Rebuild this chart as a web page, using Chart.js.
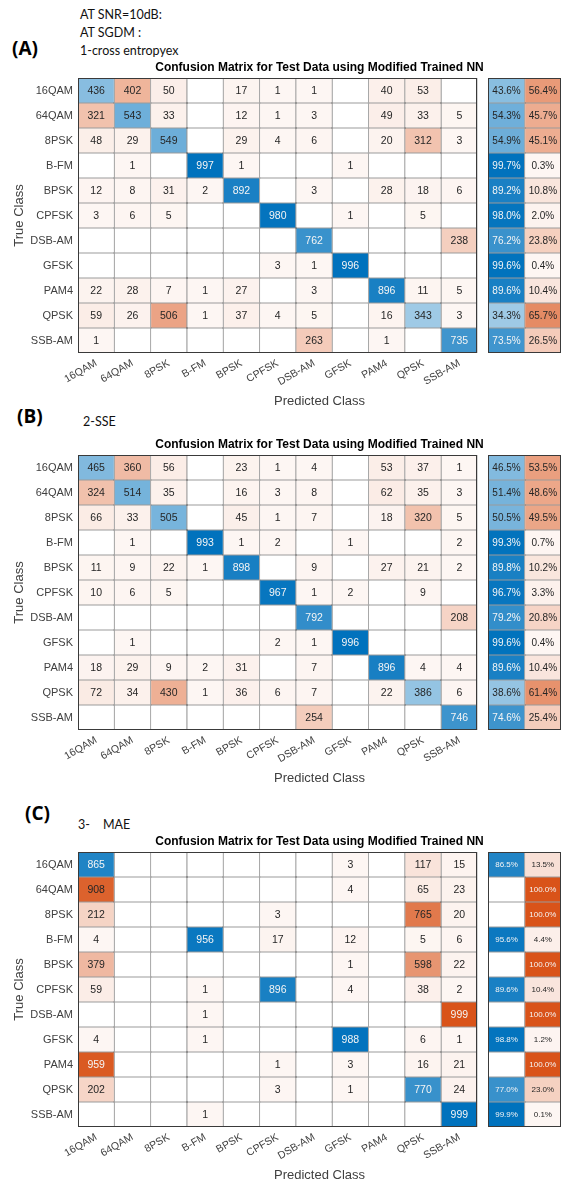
<!DOCTYPE html>
<html><head><meta charset="utf-8">
<script src="https://cdn.jsdelivr.net/npm/chart.js@4.4.1/dist/chart.umd.min.js"></script>
<style>
html,body{margin:0;padding:0;background:#fff;}
body{width:562px;height:1187px;position:relative;overflow:hidden;}
.note{position:absolute;font-family:Lato,"Open Sans",sans-serif;font-size:12.5px;color:#111;white-space:nowrap;line-height:1;}
.tag{position:absolute;font-family:"Open Sans",Lato,sans-serif;font-weight:700;font-size:19px;color:#000;line-height:1;}
canvas{position:absolute;left:0;}
</style></head><body>
<div class="note" style="left:80px;top:9px">AT SNR=10dB:</div>
<div class="note" style="left:80px;top:27px">AT SGDM :</div>
<div class="note" style="left:80px;top:45px">1-cross entropyex</div>
<div class="tag" style="left:12px;top:39px">(A)</div>
<div class="tag" style="left:17px;top:407px">(B)</div>
<div class="note" style="left:83px;top:416px">2-SSE</div>
<div class="tag" style="left:25px;top:804px">(C)</div>
<div class="note" style="left:78px;top:819px">3-</div>
<div class="note" style="left:103px;top:819px">MAE</div>
<canvas id="cA" width="562" height="351" style="top:60px"></canvas>
<canvas id="cB" width="562" height="351" style="top:437px"></canvas>
<canvas id="cC" width="562" height="351" style="top:834px"></canvas>
<script>
const trueClasses = ['16QAM','64QAM','8PSK','B-FM','BPSK','CPFSK','DSB-AM','GFSK','PAM4','QPSK','SSB-AM'];
const predictedClasses = ['16QAM','64QAM','8PSK','B-FM','BPSK','CPFSK','DSB-AM','GFSK','PAM4','QPSK','SSB-AM'];
const chartTitle = 'Confusion Matrix for Test Data using Modified Trained NN';

// (A) cross entropy
const matrixA = [
  [436,402,50,0,17,1,1,0,40,53,0],
  [321,543,33,0,12,1,3,0,49,33,5],
  [48,29,549,0,29,4,6,0,20,312,3],
  [0,1,0,997,1,0,0,1,0,0,0],
  [12,8,31,2,892,0,3,0,28,18,6],
  [3,6,5,0,0,980,0,1,0,5,0],
  [0,0,0,0,0,0,762,0,0,0,238],
  [0,0,0,0,0,3,1,996,0,0,0],
  [22,28,7,1,27,0,3,0,896,11,5],
  [59,26,506,1,37,4,5,0,16,343,3],
  [1,0,0,0,0,0,263,0,1,0,735]
];
const correctA = [43.6,54.3,54.9,99.7,89.2,98.0,76.2,99.6,89.6,34.3,73.5];
const wrongA   = [56.4,45.7,45.1,0.3,10.8,2.0,23.8,0.4,10.4,65.7,26.5];

// (B) SSE
const matrixB = [
  [465,360,56,0,23,1,4,0,53,37,1],
  [324,514,35,0,16,3,8,0,62,35,3],
  [66,33,505,0,45,1,7,0,18,320,5],
  [0,1,0,993,1,2,0,1,0,0,2],
  [11,9,22,1,898,0,9,0,27,21,2],
  [10,6,5,0,0,967,1,2,0,9,0],
  [0,0,0,0,0,0,792,0,0,0,208],
  [0,1,0,0,0,2,1,996,0,0,0],
  [18,29,9,2,31,0,7,0,896,4,4],
  [72,34,430,1,36,6,7,0,22,386,6],
  [0,0,0,0,0,0,254,0,0,0,746]
];
const correctB = [46.5,51.4,50.5,99.3,89.8,96.7,79.2,99.6,89.6,38.6,74.6];
const wrongB   = [53.5,48.6,49.5,0.7,10.2,3.3,20.8,0.4,10.4,61.4,25.4];

// (C) MAE
const matrixC = [
  [865,0,0,0,0,0,0,3,0,117,15],
  [908,0,0,0,0,0,0,4,0,65,23],
  [212,0,0,0,0,3,0,0,0,765,20],
  [4,0,0,956,0,17,0,12,0,5,6],
  [379,0,0,0,0,0,0,1,0,598,22],
  [59,0,0,1,0,896,0,4,0,38,2],
  [0,0,0,1,0,0,0,0,0,0,999],
  [4,0,0,1,0,0,0,988,0,6,1],
  [959,0,0,0,0,1,0,3,0,16,21],
  [202,0,0,0,0,3,0,1,0,770,24],
  [0,0,0,1,0,0,0,0,0,0,999]
];
const correctC = [86.5,0,0,95.6,0,89.6,0,98.8,0,77.0,99.9];
const wrongC   = [13.5,100.0,100.0,4.4,100.0,10.4,100.0,1.2,100.0,23.0,0.1];

const BLUE = [0,114,189], ORANGE = [217,83,25];
const FONT = '"Liberation Sans", Arial, Helvetica, sans-serif';
Chart.defaults.font.family = FONT;

function mix(rgb, t) {
  return 'rgb(' + rgb.map(c => Math.round(255 - (255 - c) * t)).join(',') + ')';
}
function tint(v, max) { return 0.05 + 0.95 * v / max; }

const cellTextPlugin = {
  id: 'cellText',
  afterDatasetsDraw(chart) {
    const ctx = chart.ctx;
    chart.data.datasets.forEach((ds, di) => {
      const meta = chart.getDatasetMeta(di);
      meta.data.forEach((el, i) => {
        const txt = ds.cellText[i];
        if (!txt) return;
        const p = el.getProps(['x', 'y', 'base'], true);
        ctx.save();
        ctx.font = ds.cellFont;
        ctx.fillStyle = ds.cellTextColor[i];
        ctx.textAlign = 'center';
        ctx.textBaseline = 'middle';
        ctx.fillText(txt, (p.x + p.base) / 2, p.y + 0.5);
        ctx.restore();
      });
    });
  }
};
const outlinePlugin = {
  id: 'outline',
  afterDatasetsDraw(chart) {
    const ctx = chart.ctx, xs = chart.scales.x, a = chart.chartArea;
    ctx.save();
    ctx.strokeStyle = '#3a3a3a';
    ctx.lineWidth = 1;
    [[0, 11], [11.3, 13.3]].forEach(([s, e]) => {
      const x0 = Math.round(xs.getPixelForValue(s)) + 0.5;
      const x1 = Math.round(xs.getPixelForValue(e)) - 0.5;
      ctx.strokeRect(x0, Math.round(a.top) + 0.5, x1 - x0, Math.round(a.bottom) - Math.round(a.top) - 1);
    });
    ctx.restore();
  }
};

function makeChart(id, matrix, correct, wrong, sumFont) {
  const max = Math.max(...matrix.flat());
  const datasets = predictedClasses.map((pc, c) => ({
    label: pc,
    data: trueClasses.map(() => [c, c + 1]),
    backgroundColor: matrix.map((row, r) => row[c] ? mix(r === c ? BLUE : ORANGE, tint(row[c], max)) : '#ffffff'),
    cellText: matrix.map(row => row[c] ? String(row[c]) : ''),
    cellTextColor: matrix.map((row, r) => {
      const t = tint(row[c], max);
      return (r === c ? t > 0.66 : t > 0.94) ? '#f4f4f4' : '#262626';
    }),
    cellFont: '10.5px ' + FONT
  }));
  [[correct, BLUE, 11.3, 0.66], [wrong, ORANGE, 12.3, 0.94]].forEach(([vals, col, x0, thr]) => {
    datasets.push({
      label: 'summary',
      data: trueClasses.map(() => [x0, x0 + 1]),
      backgroundColor: vals.map(v => v > 0 ? mix(col, tint(v, 100)) : '#ffffff'),
      cellText: vals.map(v => v > 0 ? v.toFixed(1) + '%' : ''),
      cellTextColor: vals.map(v => tint(v, 100) > thr ? '#f4f4f4' : '#262626'),
      cellFont: sumFont + 'px ' + FONT
    });
  });
  datasets.forEach(d => {
    d.borderColor = '#3a3a3a';
    d.borderWidth = 0.55;
    d.borderSkipped = false;
    d.inflateAmount = 0;
    d.grouped = false;
    d.barPercentage = 1;
    d.categoryPercentage = 1;
  });
  return new Chart(document.getElementById(id), {
    type: 'bar',
    data: { labels: trueClasses, datasets },
    plugins: [cellTextPlugin, outlinePlugin],
    options: {
      responsive: false,
      animation: false,
      indexAxis: 'y',
      layout: { padding: { left: 0, right: 1, top: 0, bottom: 0 } },
      plugins: {
        legend: { display: false },
        tooltip: { enabled: false },
        title: {
          display: true, text: chartTitle, fullSize: false, color: '#000',
          font: { family: FONT, size: 12, weight: 'bold', lineHeight: 1.25 },
          padding: { top: 0, bottom: 3 }
        }
      },
      scales: {
        x: {
          type: 'linear', min: 0, max: 13.3,
          grid: { display: false, drawTicks: false }, border: { display: false },
          afterBuildTicks: s => { s.ticks = predictedClasses.map((_, i) => ({ value: i + 0.5 })); },
          afterFit: s => { s.height = 58; },
          ticks: {
            autoSkip: false, minRotation: 30, maxRotation: 30, padding: 4,
            color: '#404040', font: { size: 10.5 },
            callback: (v, i) => predictedClasses[i]
          },
          title: { display: true, text: 'Predicted Class', color: '#404040', font: { size: 13 }, padding: { top: 0, bottom: 2 } }
        },
        y: {
          type: 'category', offset: true,
          grid: { display: false, drawTicks: false }, border: { display: false },
          afterFit: s => { s.width = 78; },
          ticks: { color: '#404040', font: { size: 11 }, padding: 5 },
          title: { display: true, text: 'True Class', color: '#404040', font: { size: 13 }, padding: { top: 12, bottom: 0 } }
        }
      }
    }
  });
}

makeChart('cA', matrixA, correctA, wrongA, 10);
makeChart('cB', matrixB, correctB, wrongB, 10);
makeChart('cC', matrixC, correctC, wrongC, 8);
</script>
</body></html>
